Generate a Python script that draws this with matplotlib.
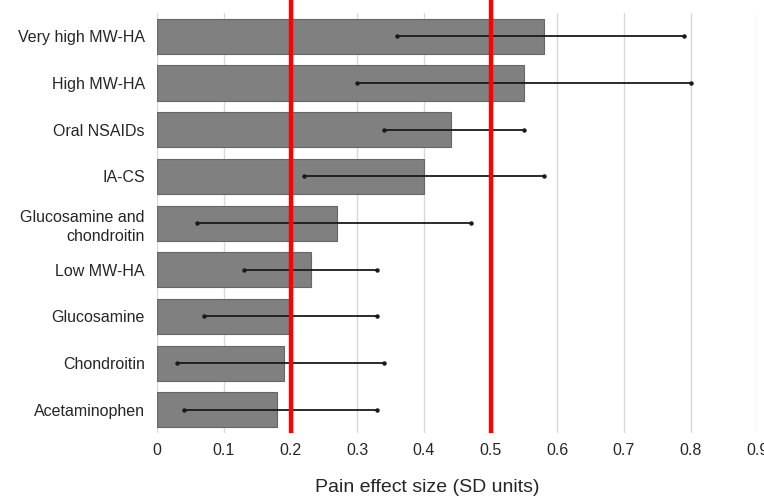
import matplotlib
matplotlib.use("Agg")
import matplotlib.pyplot as plt
import matplotlib.transforms as mtransforms

plt.rcParams['font.family'] = ['Liberation Sans', 'DejaVu Sans']

treatments = ["Very high MW-HA", "High MW-HA", "Oral NSAIDs", "IA-CS",
              "Glucosamine and\nchondroitin", "Low MW-HA", "Glucosamine",
              "Chondroitin", "Acetaminophen"]
effect = [0.58, 0.55, 0.44, 0.40, 0.27, 0.23, 0.20, 0.19, 0.18]
ci_low = [0.36, 0.30, 0.34, 0.22, 0.06, 0.13, 0.07, 0.03, 0.04]
ci_high = [0.79, 0.80, 0.55, 0.58, 0.47, 0.33, 0.33, 0.34, 0.33]
thresholds = [0.2, 0.5]
xticks = [0, 0.1, 0.2, 0.3, 0.4, 0.5, 0.6, 0.7, 0.8, 0.9]

fig = plt.figure(figsize=(7.64, 4.98), dpi=100)
ax = fig.add_axes([0.2059, 0.1305, 0.7853, 0.8434])

ypos = list(range(len(treatments)))
ax.barh(ypos, effect, height=0.75, color="#808080", edgecolor="#666666",
        linewidth=0.8, zorder=2)

# confidence interval whiskers with small end dots
for y, lo, hi in zip(ypos, ci_low, ci_high):
    ax.plot([lo, hi], [y, y], color="#1a1a1a", lw=1.3, zorder=3,
            solid_capstyle="butt")
    ax.plot([lo, hi], [y, y], ls="none", marker="o", ms=2.2,
            color="#1a1a1a", zorder=3)

trans = mtransforms.blended_transform_factory(ax.transData, ax.transAxes)
for t in thresholds:
    ax.plot([t, t], [0, 1.031], color="#ff0000", lw=3.2, transform=trans,
            clip_on=False, zorder=4, solid_capstyle="butt")

ax.set_xlim(0, 0.9)
ax.set_ylim(len(treatments) - 0.5, -0.5)
ax.set_yticks(ypos)
ax.set_yticklabels(treatments, fontsize=11.5, color="#262626", linespacing=1.35)
ax.set_xticks(xticks)
ax.set_xticklabels([f"{v:g}" for v in xticks], fontsize=11.5, color="#262626")
ax.tick_params(axis="x", length=0, pad=7)
ax.tick_params(axis="y", length=0, pad=9)
ax.grid(axis="x", color="#d9d9d9", lw=1.0, zorder=0)
ax.set_axisbelow(True)
for s in ax.spines.values():
    s.set_visible(False)

ax.set_xlabel("Pain effect size (SD units)", fontsize=14, color="#262626")
ax.xaxis.set_label_coords(0.4495, -0.11)

fig.savefig("out.png", dpi=100)
